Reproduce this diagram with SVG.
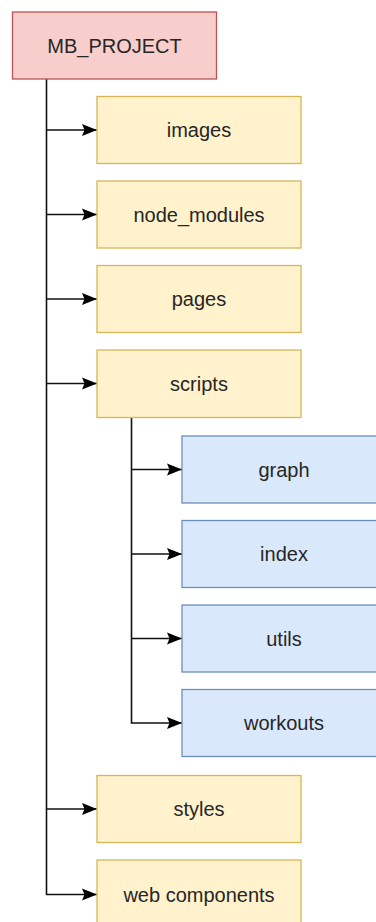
<svg xmlns="http://www.w3.org/2000/svg" width="376" height="922" viewBox="0 0 376 922">
<defs>
<style>
.root{fill:#f8cecc;stroke:#b85450;stroke-width:1.3}
.dir{fill:#fff2cc;stroke:#d6b656;stroke-width:1.3}
.sub{fill:#dae8fc;stroke:#6c8ebf;stroke-width:1.3}
text{font-family:"Liberation Sans",Arial,sans-serif;font-size:20px;fill:#262626;text-anchor:middle}
.c{fill:none;stroke:#111;stroke-width:1.6}
</style>
<marker id="ah" markerUnits="userSpaceOnUse" markerWidth="15" markerHeight="13" refX="15" refY="6.5" orient="auto" overflow="visible">
<path d="M0,0.5 L15,6.5 L0,12.5 L2.5,6.5 Z" fill="#000"/>
</marker>
</defs>
<rect width="376" height="922" fill="#fff"/>
<g id="connectors">
<path class="c" d="M46.5,79 V894.5 H97" marker-end="url(#ah)"/>
<path class="c" d="M46.5,130 H97" marker-end="url(#ah)"/>
<path class="c" d="M46.5,214.5 H97" marker-end="url(#ah)"/>
<path class="c" d="M46.5,299 H97" marker-end="url(#ah)"/>
<path class="c" d="M46.5,383.5 H97" marker-end="url(#ah)"/>
<path class="c" d="M46.5,809 H97" marker-end="url(#ah)"/>
<path class="c" d="M131.5,418 V723 H182" marker-end="url(#ah)"/>
<path class="c" d="M131.5,469.5 H182" marker-end="url(#ah)"/>
<path class="c" d="M131.5,554 H182" marker-end="url(#ah)"/>
<path class="c" d="M131.5,638.5 H182" marker-end="url(#ah)"/>
</g>
<g id="mb_project"><rect class="root" x="12.5" y="12" width="204" height="67"/><text x="114.5" y="52.5">MB_PROJECT</text></g>
<g id="images"><rect class="dir" x="97" y="96.5" width="204" height="67"/><text x="199" y="137">images</text></g>
<g id="node_modules"><rect class="dir" x="97" y="181" width="204" height="67"/><text x="199" y="221.5">node_modules</text></g>
<g id="pages"><rect class="dir" x="97" y="265.5" width="204" height="67"/><text x="199" y="306">pages</text></g>
<g id="scripts"><rect class="dir" x="97" y="350" width="204" height="67.5"/><text x="199" y="390.5">scripts</text></g>
<g id="graph"><rect class="sub" x="182" y="436" width="204" height="67"/><text x="284" y="476.5">graph</text></g>
<g id="index"><rect class="sub" x="182" y="520.5" width="204" height="67"/><text x="284" y="561">index</text></g>
<g id="utils"><rect class="sub" x="182" y="605" width="204" height="67"/><text x="284" y="645.5">utils</text></g>
<g id="workouts"><rect class="sub" x="182" y="689.5" width="204" height="67"/><text x="284" y="730">workouts</text></g>
<g id="styles"><rect class="dir" x="97" y="775.5" width="204" height="67"/><text x="199" y="816">styles</text></g>
<g id="web_components"><rect class="dir" x="97" y="860" width="204" height="67"/><text x="199" y="901.5">web components</text></g>
</svg>
